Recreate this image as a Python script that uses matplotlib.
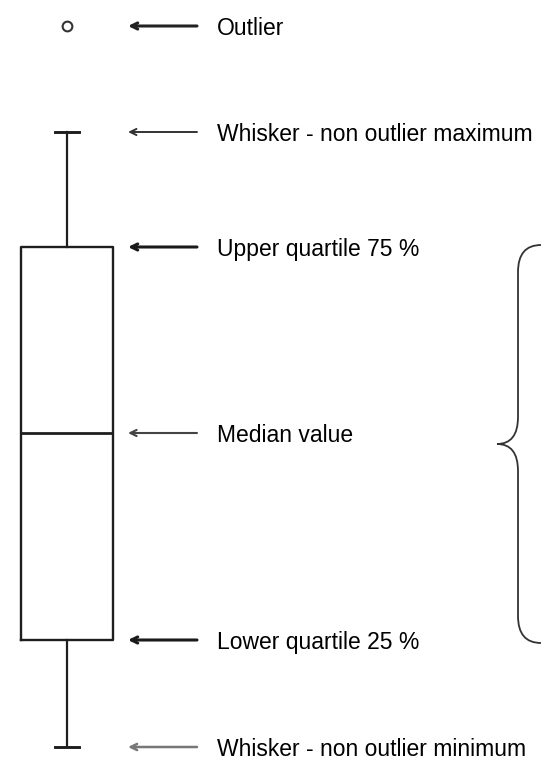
import matplotlib
matplotlib.use('Agg')
import matplotlib.pyplot as plt
from matplotlib import font_manager
from matplotlib.path import Path
from matplotlib.patches import PathPatch

# box plot statistics
whislo = 0.0
q1 = 10.7
med = 31.4
q3 = 50.0
whishi = 61.5
fliers = [72.1]

labels = ['Outlier', 'Whisker - non outlier maximum', 'Upper quartile 75 %',
          'Median value', 'Lower quartile 25 %', 'Whisker - non outlier minimum']
label_values = [fliers[0], whishi, q3, med, q1, whislo]

# arrow looks: darker/thicker for some, lighter for the whiskers
arrow_colors = ['#222222', '#333333', '#1a1a1a', '#444444', '#1a1a1a', '#777777']
arrow_lw = [2.2, 1.4, 2.2, 1.5, 2.2, 1.8]

names = {f.name for f in font_manager.fontManager.ttflist}
if 'Liberation Sans Narrow' in names:
    fam, fs = 'Liberation Sans Narrow', 20
else:
    fam, fs = 'Liberation Sans', 16.5

fig = plt.figure(figsize=(5.44, 7.61), dpi=100)
ax = fig.add_axes([0, 0, 1, 1])
ax.set_xlim(0, 544)
ax.set_ylim(-1.4, 74.7)
ax.axis('off')

stats = [dict(whislo=whislo, q1=q1, med=med, q3=q3, whishi=whishi, fliers=fliers)]
ax.bxp(stats, positions=[66.5], widths=92, capwidths=24, showfliers=True,
       boxprops=dict(color='#1e1e1e', lw=1.7),
       whiskerprops=dict(color='#1e1e1e', lw=1.6),
       capprops=dict(color='#1e1e1e', lw=2.1),
       medianprops=dict(color='#1e1e1e', lw=2.0),
       flierprops=dict(marker='o', markersize=7, markerfacecolor='white',
                       markeredgecolor='#333333', markeredgewidth=1.5))

# arrows and labels
for i, (lab, v) in enumerate(zip(labels, label_values)):
    ax.annotate('', xy=(128, v), xytext=(197, v),
                arrowprops=dict(arrowstyle='->,head_length=0.45,head_width=0.22',
                                color=arrow_colors[i], lw=arrow_lw[i],
                                shrinkA=0, shrinkB=0))
    ax.text(217, v - 0.85, lab, fontsize=fs, family=[fam, 'DejaVu Sans'],
            color='#000000', va='baseline', ha='left')

# curly brace spanning the box (interquartile range)
xv, xe, xt = 518, 541, 497
top = q3 + 0.2
bot = q1 - 0.3
mid = (top + bot) / 2
r = 2.7
verts = [(xe, top), (xv, top), (xv, top - r), (xv, mid + r),
         (xv, mid), (xt, mid), (xv, mid), (xv, mid - r),
         (xv, bot + r), (xv, bot), (xe, bot)]
codes = [Path.MOVETO, Path.CURVE3, Path.CURVE3, Path.LINETO,
         Path.CURVE3, Path.CURVE3, Path.CURVE3, Path.CURVE3,
         Path.LINETO, Path.CURVE3, Path.CURVE3]
ax.add_patch(PathPatch(Path(verts, codes), fill=False, lw=1.3, color='#333333'))

plt.savefig('out.png', dpi=100)
